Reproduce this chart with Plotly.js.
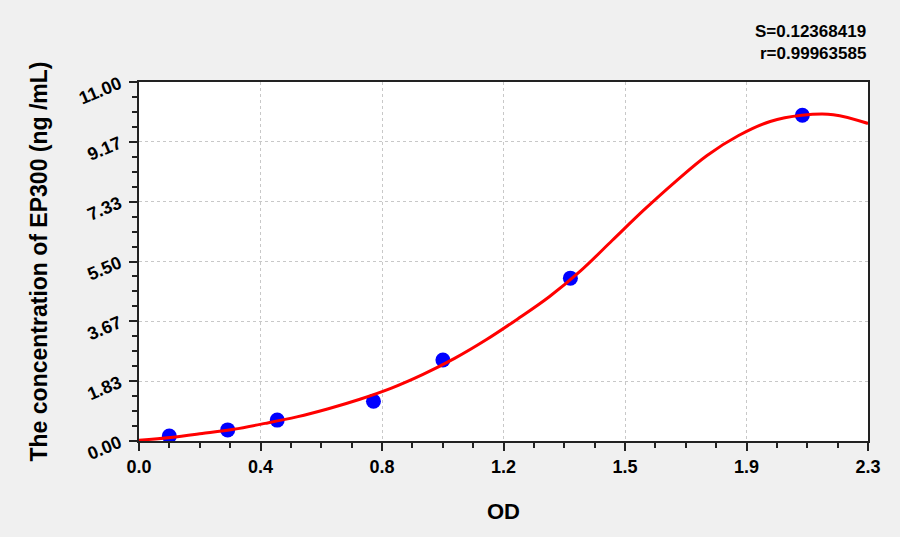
<!DOCTYPE html>
<html>
<head>
<meta charset="utf-8">
<script src="https://cdn.plot.ly/plotly-3.0.1.min.js"></script>
<style>
  html, body { margin: 0; padding: 0; background: #f0f0f0; }
  #chart { width: 900px; height: 537px; }
</style>
</head>
<body>
<div id="chart"></div>
<script>
// standard points (OD vs concentration)
var stdOD = [0.096, 0.281, 0.438, 0.743, 0.963, 1.367, 2.102];
var stdConc = [0.15, 0.34, 0.64, 1.22, 2.48, 4.99, 9.98];

// fitted curve
var fitOD = [0.0, 0.1, 0.2, 0.3, 0.4, 0.5, 0.6, 0.7, 0.8, 0.9, 1.0, 1.1, 1.2,
             1.3, 1.4, 1.5, 1.6, 1.7, 1.8, 1.9, 2.0, 2.1, 2.2, 2.31];
var fitConc = [0.02, 0.11, 0.23, 0.36, 0.54, 0.74, 0.99, 1.28, 1.62, 2.04, 2.53, 3.10, 3.74,
               4.42, 5.22, 6.15, 7.08, 7.95, 8.75, 9.36, 9.79, 9.98, 10.00, 9.73];

// axis ticks
var xTickVals = [0, 0.385, 0.77, 1.155, 1.54, 1.925, 2.31];
var xTickText = ["0.0", "0.4", "0.8", "1.2", "1.5", "1.9", "2.3"];
var yTickVals = [0, 11/6, 22/6, 33/6, 44/6, 55/6, 11];
var yTickText = ["0.00", "1.83", "3.67", "5.50", "7.33", "9.17", "11.00"];

var fitStats = ["S=0.12368419", "r=0.99963585"];

var boldFont = "Liberation Sans, Arial, sans-serif";

var traces = [
  {
    x: stdOD,
    y: stdConc,
    type: "scatter",
    mode: "markers",
    marker: { color: "#0000ff", size: 15 },
    hoverinfo: "x+y"
  },
  {
    x: fitOD,
    y: fitConc,
    type: "scatter",
    mode: "lines",
    line: { color: "#ff0000", width: 3, shape: "spline", smoothing: 1 },
    hoverinfo: "skip"
  }
];

var layout = {
  width: 900,
  height: 537,
  showlegend: false,
  paper_bgcolor: "#f0f0f0",
  plot_bgcolor: "#ffffff",
  margin: { l: 139, r: 32, t: 82, b: 96 },
  font: { family: boldFont, color: "#000000" },
  xaxis: {
    range: [0, 2.31],
    tickmode: "array",
    tickvals: xTickVals,
    ticktext: xTickText,
    ticks: "outside",
    ticklen: 8,
    tickwidth: 2,
    tickcolor: "#222222",
    minor: { dtick: 0.09625, tick0: 0, ticks: "outside", ticklen: 5, tickwidth: 2, tickcolor: "#222222", showgrid: false },
    showline: true,
    mirror: true,
    linecolor: "#222222",
    linewidth: 2,
    showgrid: true,
    gridcolor: "#c8c8c8",
    griddash: "dot",
    gridwidth: 1,
    zeroline: false,
    tickfont: { family: boldFont, size: 18, weight: "bold", color: "#000000" },
    title: { text: "<b>OD</b>", font: { family: boldFont, size: 22, color: "#000000" }, standoff: 28 }
  },
  yaxis: {
    range: [0, 11],
    tickmode: "array",
    tickvals: yTickVals,
    ticktext: yTickText,
    tickangle: -23,
    ticks: "outside",
    ticklen: 8,
    tickwidth: 2,
    tickcolor: "#222222",
    ticklabelstandoff: 6,
    minor: { dtick: 11/24, tick0: 0, ticks: "outside", ticklen: 5, tickwidth: 2, tickcolor: "#222222", showgrid: false },
    showline: true,
    mirror: true,
    linecolor: "#222222",
    linewidth: 2,
    showgrid: true,
    gridcolor: "#c8c8c8",
    griddash: "dot",
    gridwidth: 1,
    zeroline: false,
    tickfont: { family: boldFont, size: 18, weight: "bold", color: "#000000" },
    title: { text: "<b>The concentration of EP300 (ng /mL)</b>", font: { family: boldFont, size: 23, color: "#000000" }, standoff: 22 }
  },
  annotations: [
    {
      xref: "paper", yref: "paper",
      x: 1, xanchor: "right",
      y: 1.14, yanchor: "middle",
      text: "<b>" + fitStats[0] + "</b>",
      showarrow: false,
      font: { family: boldFont, size: 17, color: "#000000" }
    },
    {
      xref: "paper", yref: "paper",
      x: 1, xanchor: "right",
      y: 1.08, yanchor: "middle",
      text: "<b>" + fitStats[1] + "</b>",
      showarrow: false,
      font: { family: boldFont, size: 17, color: "#000000" }
    }
  ]
};

Plotly.newPlot("chart", traces, layout, { displayModeBar: false, staticPlot: true });
</script>
</body>
</html>
